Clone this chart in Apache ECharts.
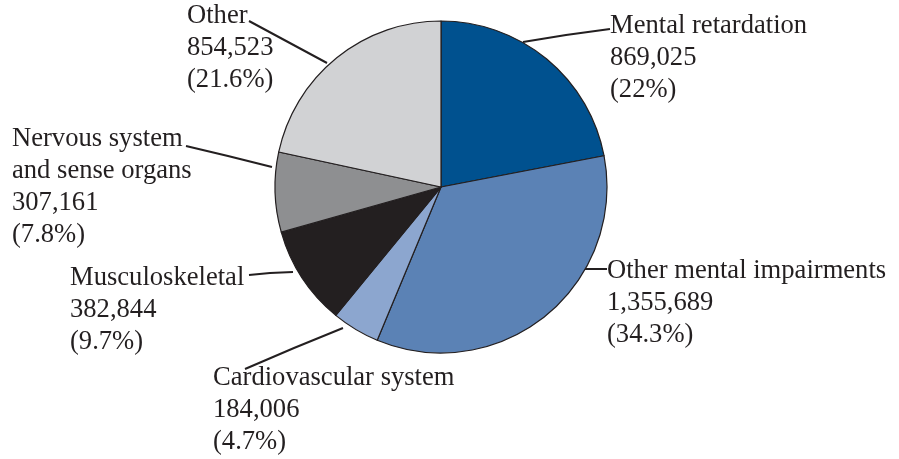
<!DOCTYPE html>
<html>
<head>
<meta charset="utf-8">
<script src="https://cdn.jsdelivr.net/npm/echarts@6/dist/echarts.min.js"></script>
<style>
  html, body { margin: 0; padding: 0; background: #fff; }
  #chart { width: 899px; height: 459px; }
</style>
</head>
<body>
<div id="chart"></div>
<script>
// categories, values and printed percentages (clockwise from 12 o'clock)
const categories = [
  'Mental retardation',
  'Other mental impairments',
  'Cardiovascular system',
  'Musculoskeletal',
  'Nervous system\nand sense organs',
  'Other'
]
const values = [869025, 1355689, 184006, 382844, 307161, 854523]
const percents = ['22%', '34.3%', '4.7%', '9.7%', '7.8%', '21.6%']

const sliceColors = ['#00518f', '#5b82b5', '#8ca6cf', '#231f20', '#8e8f91', '#d1d2d4']

// where each label block sits and how its leader line runs
const labelSpots = [
  { x: 610, y: 10, line: [[523, 42], [566, 35], [610, 29]] },
  { x: 607, y: 255, line: [[583, 269], [595, 269], [607, 269]] },
  { x: 213, y: 362, line: [[343, 328], [294, 348], [245, 369]] },
  { x: 70, y: 262, line: [[293, 272], [270, 273], [249, 275]] },
  { x: 12, y: 123, line: [[272, 167], [228, 156], [186, 146]] },
  { x: 187, y: 0, line: [[327, 63], [288, 42], [249, 21]] }
]

const fmt = n => n.toLocaleString('en-US')

const chart = echarts.init(document.getElementById('chart'))

chart.setOption({
  animation: false,
  backgroundColor: '#fff',
  series: [
    {
      type: 'pie',
      center: [441, 187],
      radius: 166,
      startAngle: 90,
      clockwise: true,
      silent: true,
      data: categories.map((name, i) => ({
        name: name,
        value: values[i],
        itemStyle: { color: sliceColors[i] }
      })),
      itemStyle: {
        borderColor: '#231f20',
        borderWidth: 1.2
      },
      label: {
        show: true,
        position: 'outside',
        formatter: p => `${p.name}\n${fmt(p.value)}\n(${percents[p.dataIndex]})`,
        fontFamily: '"Liberation Serif", "Times New Roman", serif',
        fontSize: 26.6,
        lineHeight: 32,
        color: '#231f20',
        align: 'left'
      },
      labelLine: {
        show: true,
        lineStyle: { color: '#231f20', width: 2 }
      },
      labelLayout: function (params) {
        const s = labelSpots[params.dataIndex]
        return {
          x: s.x,
          y: s.y,
          align: 'left',
          verticalAlign: 'top',
          labelLinePoints: s.line
        }
      }
    }
  ]
})
</script>
</body>
</html>
